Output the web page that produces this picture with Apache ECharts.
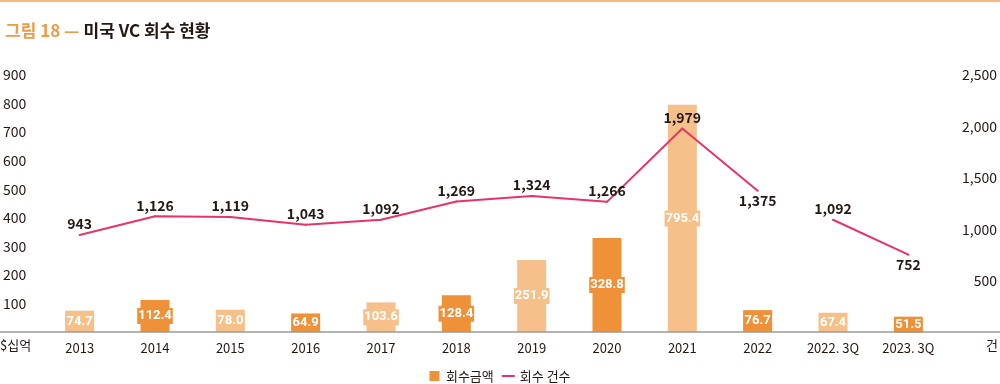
<!DOCTYPE html>
<html>
<head>
<meta charset="utf-8">
<script src="https://cdn.jsdelivr.net/npm/echarts@6/dist/echarts.min.js"></script>
<style>
  html, body { margin: 0; padding: 0; background: #fff; }
  #chart { width: 1000px; height: 384px; }
</style>
</head>
<body>
<div id="chart"></div>
<script>
// ---- data ----
const categories = ['2013', '2014', '2015', '2016', '2017', '2018', '2019', '2020', '2021', '2022', '2022. 3Q', '2023. 3Q'];
const exitAmount = [74.7, 112.4, 78.0, 64.9, 103.6, 128.4, 251.9, 328.8, 795.4, 76.7, 67.4, 51.5];
const exitCountAnnual = [943, 1126, 1119, 1043, 1092, 1269, 1324, 1266, 1979, 1375];
const exitCountQuarter = [1092, 752];
const leftTicks = [0, 900, 100];    // min, max, interval
const rightTicks = [0, 2500, 500];  // min, max, interval

// ---- styles ----
const FONT = "'Noto Sans CJK KR', 'Noto Sans', sans-serif";
const NARROW = "'Liberation Sans Narrow', 'Roboto', sans-serif";
const INK = '#231815';
const DARK = '#EE9139';
const LIGHT = '#F5C08A';
const PINK = '#E63468';

const fmt = v => Number(v).toLocaleString('en-US');

const nAnnual = exitCountAnnual.length;
const lineA = categories.map((c, i) => i < nAnnual ? exitCountAnnual[i] : '-');
const offsetQ = categories.length - exitCountQuarter.length;
const lineB = categories.map((c, i) => i >= offsetQ ? exitCountQuarter[i - offsetQ] : '-');
const belowIdx = [9, 11];

const lineLabel = { show: true, position: 'top', distance: 3, fontFamily: FONT, fontWeight: 'bold', fontSize: 14, color: INK,
  formatter: p => fmt(p.value) };

const chart = echarts.init(document.getElementById('chart'), null, { renderer: 'canvas' });
chart.setOption({
  animation: false,
  textStyle: { fontFamily: FONT },
  title: {
    text: '{a|그림 18 —} {b|미국 VC 회수 현황}',
    left: 0, top: 14,
    textStyle: {
      rich: {
        a: { fontFamily: FONT, fontSize: 17, fontWeight: 'bold', color: '#EF9A45', lineHeight: 24 },
        b: { fontFamily: FONT, fontSize: 17, fontWeight: 'bold', color: INK, lineHeight: 24 }
      }
    }
  },
  graphic: [
    { type: 'rect', left: 0, top: 0, shape: { width: 1000, height: 2 }, style: { fill: '#F6BA7E' } },
    { type: 'line', shape: { x1: 0, y1: 332, x2: 1000, y2: 332 }, style: { stroke: '#9A9A9A', lineWidth: 1.5 }, z: 10 },
    { type: 'text', left: 0, top: 339, style: { text: '$십억', font: '13px ' + FONT, fill: INK } },
    { type: 'text', right: 2, top: 339, style: { text: '건', font: '13px ' + FONT, fill: INK } }
  ],
  legend: {
    top: 367, left: 'center', padding: 0,
    itemWidth: 13, itemHeight: 10, itemGap: 8,
    textStyle: { fontFamily: FONT, fontSize: 13, color: INK, lineHeight: 18 },
    data: [
      { name: '회수금액', icon: 'path://M0,0H10V10H0Z' },
      { name: '회수 건수', icon: 'path://M0,0H13V2H0Z' }
    ]
  },
  grid: { left: 39, right: 53, top: 75, bottom: 52 },
  xAxis: {
    type: 'category',
    data: categories,
    axisLine: { show: false },
    axisTick: { show: false },
    axisLabel: { interval: 0, margin: 10, fontFamily: FONT, fontSize: 13, color: INK }
  },
  yAxis: [
    {
      type: 'value', min: leftTicks[0], max: leftTicks[1], interval: leftTicks[2],
      splitLine: { show: false }, axisLine: { show: false }, axisTick: { show: false },
      axisLabel: { align: 'left', margin: 39, fontFamily: FONT, fontSize: 14, color: INK,
        formatter: v => v === 0 ? '' : String(v) }
    },
    {
      type: 'value', min: rightTicks[0], max: rightTicks[1], interval: rightTicks[2],
      splitLine: { show: false }, axisLine: { show: false }, axisTick: { show: false },
      axisLabel: { align: 'right', margin: 51, fontFamily: FONT, fontSize: 14, color: INK,
        formatter: v => v === 0 ? '' : fmt(v) }
    }
  ],
  series: [
    {
      name: '회수금액', type: 'bar', yAxisIndex: 0, barWidth: 29,
      itemStyle: { color: DARK },
      data: exitAmount.map((v, i) => {
        const c = i % 2 === 0 ? LIGHT : DARK;
        return { value: v, itemStyle: { color: c }, label: { backgroundColor: c } };
      }),
      label: {
        show: true, position: 'inside', color: '#fff', fontFamily: NARROW, fontWeight: 'bold', fontSize: 13,
        overflow: 'none', padding: [2, 1, 1, 1],
        formatter: p => Number(p.value).toFixed(1)
      },
      labelLayout: { hideOverlap: false },
      z: 2
    },
    {
      name: '회수 건수', type: 'line', yAxisIndex: 1,
      data: lineA.map((v, i) => belowIdx.includes(i) ? { value: v, label: { position: 'bottom', distance: 2 } } : v),
      symbol: 'circle', symbolSize: 2, showSymbol: true,
      itemStyle: { color: PINK }, lineStyle: { color: PINK, width: 2 },
      label: lineLabel,
      z: 5
    },
    {
      name: '회수 건수', type: 'line', yAxisIndex: 1,
      data: lineB.map((v, i) => belowIdx.includes(i) ? { value: v, label: { position: 'bottom', distance: 2 } } : v),
      symbol: 'circle', symbolSize: 2, showSymbol: true,
      itemStyle: { color: PINK }, lineStyle: { color: PINK, width: 2 },
      label: lineLabel,
      z: 5
    }
  ]
});
</script>
</body>
</html>
